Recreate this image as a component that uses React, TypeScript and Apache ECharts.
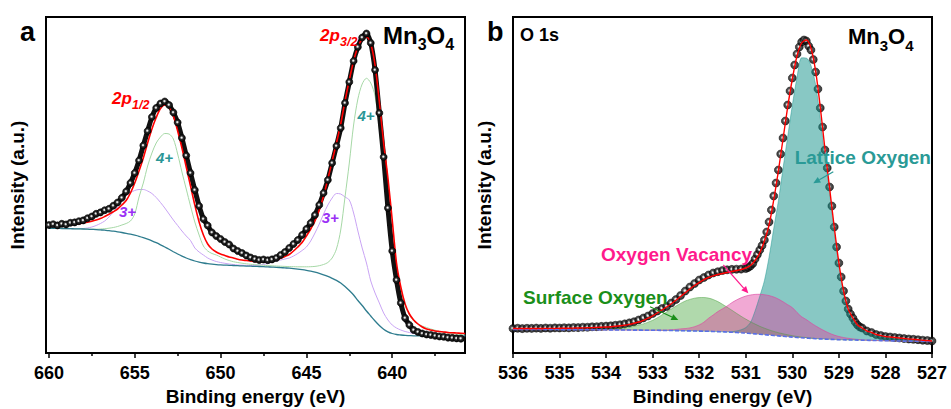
import React, { useEffect, useRef } from 'react';
import * as echarts from 'echarts';

// ---------------- Panel a : Mn 2p ----------------
const mnEnergy = [
  660, 659.75, 659.5, 659.25, 659, 658.75, 658.5, 658.25, 658, 657.75,
  657.5, 657.25, 657, 656.75, 656.5, 656.25, 656, 655.75, 655.5, 655.25,
  655, 654.75, 654.5, 654.25, 654, 653.75, 653.5, 653.25, 653, 652.75,
  652.5, 652.25, 652, 651.75, 651.5, 651.25, 651, 650.75, 650.5, 650.25,
  650, 649.75, 649.5, 649.25, 649, 648.75, 648.5, 648.25, 648, 647.75,
  647.5, 647.25, 647, 646.75, 646.5, 646.25, 646, 645.75, 645.5, 645.25,
  645, 644.75, 644.5, 644.25, 644, 643.75, 643.5, 643.25, 643, 642.75,
  642.5, 642.25, 642, 641.75, 641.5, 641.25, 641, 640.75, 640.5, 640.25,
  640, 639.75, 639.5, 639.25, 639, 638.75, 638.5, 638.25, 638, 637.75,
  637.5, 637.25, 637, 636.75, 636.5, 636.25, 636, 635.75,
];
const mnCounts = [
  128, 128.8, 127.6, 129.2, 128.5, 130.2, 130.6, 131.8, 132.6, 134.8,
  136.5, 139.2, 140.6, 142.8, 144.2, 147.3, 150.5, 155.2, 161.5, 170,
  180, 192.5, 207.5, 222, 236, 245, 249.5, 251.5, 248, 240.5,
  230.5, 215, 197.5, 180, 163, 147, 134, 127.5, 120.5, 117,
  114, 111, 108.5, 104.5, 102, 100, 97.5, 95.5, 94, 93,
  93.5, 92.8, 93.6, 95, 98, 101, 105, 109, 113, 118,
  124, 130, 138, 148, 160, 173, 190, 207, 225, 250,
  271, 292, 306, 315.5, 319.5, 310, 283, 240, 196, 145,
  102, 73, 50, 35, 28, 23, 21, 19.5, 18.5, 18,
  17.2, 16.5, 16.2, 15.4, 15.1, 14.6, 14.4, 14,
];
const mnFit = [
  127, 127, 127.3, 127.6, 128, 128.3, 128.8, 129.3, 130, 130.8,
  131.8, 133, 134.5, 136.5, 138.7, 141.2, 144, 148, 152.5, 160,
  170, 182, 195, 210, 224, 235.5, 244.5, 248, 246, 237,
  222, 205, 186, 167, 148, 131, 118, 109, 104, 101,
  99, 97.5, 96, 95, 93.8, 93, 92.5, 92, 91.5, 91.3,
  91.3, 91.5, 92, 93, 94.8, 96.5, 98.5, 102, 106, 110.5,
  117, 124, 132, 143, 157, 174, 192, 210, 229, 252,
  273, 292, 306, 314, 316, 309, 288, 251, 210, 175,
  133, 90, 66, 49, 39, 33, 29, 26, 24, 23,
  22, 21.5, 21, 20.5, 20.2, 20, 19.7, 19.5,
];
const mnBackground = [
  124.7, 124.7, 124.6, 124.5, 124.4, 124.3, 124.2, 124.1, 124.0, 123.8,
  123.6, 123.4, 123.1, 122.8, 122.3, 121.8, 121.2, 120.5, 119.7, 118.8,
  117.8, 116.7, 115.4, 113.9, 112.2, 110.3, 108.2, 106, 103.7, 101.3,
  99, 96.9, 95, 93.4, 92, 90.9, 90, 89.3, 88.8, 88.4,
  88.1, 87.9, 87.7, 87.5, 87.3, 87.1, 86.9, 86.8, 86.6, 86.5,
  86.3, 86.1, 85.9, 85.7, 85.4, 85.1, 84.8, 84.4, 83.9, 83.3,
  82.6, 81.8, 80.8, 79.6, 78.2, 76.6, 74.7, 72.6, 70, 66.5,
  62.5, 58, 52.5, 47.5, 42, 37, 32, 27.5, 23.8, 21.2,
  19.5, 18.5, 18, 17.6, 17.4, 17.2, 17.1, 17, 17, 17,
  17, 17, 17, 17, 17, 17, 17, 17,
];
const mn4Plus = [
  124.7, 124.7, 124.6, 124.5, 124.4, 124.3, 124.2, 124.1, 124.0, 123.9,
  123.8, 123.8, 124, 124.3, 124.8, 125.5, 126.5, 128, 129.5, 132,
  139, 156, 170, 187, 200, 210, 216, 219.5, 219, 214,
  199, 181, 164, 147, 131, 118, 107, 102, 99.5, 98,
  96, 94, 92.5, 91.3, 90.5, 89.8, 89.2, 88.7, 88.3, 88,
  87.7, 87.4, 87.2, 87, 86.8, 86.6, 86.4, 86.3, 86.2, 86.2,
  86.2, 86.3, 86.6, 87.3, 88.5, 90.5, 95, 104, 123, 156,
  190, 228, 254, 269, 274.7, 270, 257, 224, 181, 149,
  117, 85, 60, 47, 38, 32, 29, 27, 25.5, 24,
  22.8, 21.5, 20.8, 20, 19.3, 18.8, 18.4, 18,
];
const mn3Plus = [
  124.7, 124.7, 124.6, 124.5, 124.4, 124.3, 124.3, 124.3, 124.5, 125,
  126, 127.5, 129.5, 132, 136, 141, 146, 153, 157.5, 160.5,
  162.5, 163.5, 163.5, 162, 159.5, 155.5, 150.5, 145, 139, 133,
  127.5, 122, 117, 112.5, 105, 101, 98, 95, 93, 91.5,
  90.5, 89.7, 89, 88.5, 88, 87.8, 87.6, 87.5, 87.5, 88,
  88.5, 89.5, 90.8, 92, 93, 94, 95, 97, 99.5, 102.5,
  106, 112, 120, 129, 139, 148, 155, 159.5, 159, 156,
  153, 140, 122, 105, 90, 72, 60, 50, 40, 33,
  28, 25, 23, 21.5, 20.5, 19.5, 18.5, 18, 17.7, 17.5,
  17.3, 17.2, 17.1, 17.1, 17, 17, 17, 17,
];
const mnMajorTicks = [640, 645, 650, 655, 660];
const mnMinorTicks = [637.5, 642.5, 647.5, 652.5, 657.5];

// ---------------- Panel b : O 1s ----------------
const oGrid = [
  '536.0', '535.9', '535.8', '535.7', '535.6', '535.5', '535.4', '535.3', '535.2', '535.1', '535.0',
  '534.9', '534.8', '534.7', '534.6', '534.5', '534.4', '534.3', '534.2', '534.1', '534.0',
  '533.9', '533.8', '533.7', '533.6', '533.5', '533.4', '533.3', '533.2', '533.1', '533.0',
  '532.9', '532.8', '532.7', '532.6', '532.5', '532.4', '532.3', '532.2', '532.1', '532.0',
  '531.9', '531.8', '531.7', '531.6', '531.5', '531.4', '531.3', '531.2', '531.1', '531.0',
  '530.9', '530.8', '530.7', '530.6', '530.5', '530.4', '530.3', '530.2', '530.1', '530.0',
  '529.9', '529.8', '529.7', '529.6', '529.5', '529.4', '529.3', '529.2', '529.1', '529.0',
  '528.9', '528.8', '528.7', '528.6', '528.5', '528.4', '528.3', '528.2', '528.1', '528.0',
  '527.9', '527.8', '527.7', '527.6', '527.5', '527.4', '527.3', '527.2', '527.1', '527.0',
];
const oBackground = [
  23.6, 23.6, 23.6, 23.6, 23.6, 23.5, 23.5, 23.5, 23.5, 23.5, 23.4,
  23.4, 23.4, 23.4, 23.3, 23.3, 23.3, 23.3, 23.2, 23.2, 23.2,
  23.1, 23.1, 23.1, 23.0, 23.0, 22.9, 22.9, 22.8, 22.8, 22.7,
  22.7, 22.6, 22.5, 22.5, 22.4, 22.3, 22.2, 22.1, 22.0, 21.9,
  21.8, 21.7, 21.5, 21.4, 21.2, 21.0, 20.8, 20.5, 20.2, 19.9,
  19.5, 19.1, 18.7, 18.3, 17.9, 17.5, 17.1, 16.7, 16.3, 15.9,
  15.5, 15.2, 14.9, 14.6, 14.3, 14.1, 13.9, 13.7, 13.5, 13.3,
  13.2, 13.1, 13.0, 12.9, 12.8, 12.7, 12.6, 12.5, 12.4, 12.3,
  12.2, 12.1, 12.0, 11.9, 11.9, 11.8, 11.7, 11.7, 11.6, 11.5,
];
const oSurface = [
  0, 0, 0, 0, 0, 0, 0, 0, 0, 0, 0,
  0, 0, 0, 0, 0, 0.1, 0.2, 0.3, 0.4, 0.5,
  0.7, 1.0, 1.5, 2.0, 2.8, 3.8, 5.0, 6.3, 8.0, 10.0,
  12.5, 15.5, 18.5, 21.5, 24.5, 27.3, 29.8, 31.5, 32.8, 33.5,
  33.7, 33.2, 32.0, 30.0, 27.5, 24.8, 22.0, 19.2, 16.5, 14.0,
  11.8, 9.8, 8.0, 6.5, 5.2, 4.1, 3.2, 2.5, 1.9, 1.4,
  1.0, 0.7, 0.5, 0.3, 0.2, 0.1, 0, 0, 0, 0,
  0, 0, 0, 0, 0, 0, 0, 0, 0, 0,
  0, 0, 0, 0, 0, 0, 0, 0, 0, 0,
];
const oVacancy = [
  0, 0, 0, 0, 0, 0, 0, 0, 0, 0, 0,
  0, 0, 0, 0, 0, 0, 0, 0, 0, 0,
  0, 0, 0, 0, 0, 0, 0, 0, 0, 0.1,
  0.2, 0.3, 0.5, 0.8, 1.2, 1.8, 2.2, 3.0, 4.3, 6.2,
  9.0, 13.0, 16.5, 20.0, 23.0, 26.0, 29.5, 32.5, 35.0, 37.0,
  38.5, 39.5, 40.0, 40.0, 39.5, 38.5, 36.8, 34.5, 32.0, 29.5,
  25.0, 21.0, 18.5, 15.5, 12.8, 10.3, 8.0, 6.0, 4.4, 3.2,
  2.3, 1.6, 1.1, 0.7, 0.4, 0.2, 0.1, 0, 0, 0,
  0, 0, 0, 0, 0, 0, 0, 0, 0, 0,
];
const oLattice = [
  0, 0, 0, 0, 0, 0, 0, 0, 0, 0, 0,
  0, 0, 0, 0, 0, 0, 0, 0, 0, 0,
  0, 0, 0, 0, 0, 0, 0, 0, 0, 0,
  0, 0, 0, 0, 0, 0, 0, 0, 0, 0,
  0, 0, 0, 0, 0, 0, 0.5, 1.5, 3.0, 5.5,
  11, 23, 38, 54, 78, 107, 135, 168, 200, 232,
  260, 280, 280, 273, 254, 221, 182, 147, 108, 74,
  47, 29.5, 20.5, 14.7, 11.5, 9.4, 7.8, 6.2, 5.2, 4.3,
  3.8, 3.3, 2.9, 2.5, 2.2, 2.0, 1.7, 1.5, 1.2, 1.0,
];
const oFit = [
  24.5, 24.5, 24.5, 24.5, 24.5, 24.5, 24.5, 24.6, 24.6, 24.6, 24.7,
  24.7, 24.8, 24.9, 25.0, 25.1, 25.2, 25.4, 25.6, 25.8, 26.0,
  26.3, 26.7, 27.2, 27.8, 28.6, 29.7, 31.0, 32.7, 34.8, 37.2,
  40.0, 43.0, 46.0, 49.3, 52.8, 56.5, 60.3, 64.0, 67.5, 70.5,
  73.3, 75.5, 77.2, 78.5, 79.5, 80.5, 81.5, 82.5, 83.5, 85.0,
  87.5, 92.5, 100, 112, 128, 153, 182, 214, 246, 274,
  297, 310, 313, 305, 282, 246, 204, 165, 126, 90,
  62, 44, 35, 28, 25, 22, 20.5, 18.5, 17.5, 16.5,
  16, 15.5, 15, 14.5, 14, 13.7, 13.3, 12.8, 12.5, 12,
];
const oDotEnergy = [
  536.0, 535.9, 535.8, 535.7, 535.6, 535.5, 535.4, 535.3, 535.2, 535.1,
  535.0, 534.9, 534.8, 534.7, 534.6, 534.5, 534.4, 534.3, 534.2, 534.1,
  534.0, 533.9, 533.8, 533.7, 533.6, 533.5, 533.4, 533.3, 533.2, 533.1,
  533.0, 532.9, 532.8, 532.7, 532.6, 532.5, 532.4, 532.3, 532.2, 532.1,
  532.0, 531.9, 531.8, 531.7, 531.6, 531.5, 531.4, 531.3, 531.2, 531.1,
  531.0,
  530.95, 530.9, 530.85, 530.8, 530.75, 530.7, 530.65, 530.6, 530.55, 530.5,
  530.45, 530.4, 530.35, 530.3, 530.25, 530.2, 530.15, 530.1, 530.05, 530.0,
  529.95, 529.9, 529.85, 529.8, 529.75, 529.7, 529.65, 529.6, 529.55, 529.5,
  529.45, 529.4, 529.35, 529.3, 529.25, 529.2, 529.15, 529.1, 529.05, 529.0,
  528.95, 528.9, 528.85, 528.8, 528.75, 528.7, 528.65, 528.6, 528.55, 528.5,
  528.4, 528.3, 528.2, 528.1, 528.0, 527.9, 527.8, 527.7, 527.6, 527.5,
  527.4, 527.3, 527.2, 527.1, 527.0,
];
const oDotCounts = [
  24.5, 24.8, 24.4, 24.7, 24.6, 24.9, 24.6, 25.0, 24.8, 25.1,
  25.0, 25.3, 25.1, 25.5, 25.4, 25.8, 25.8, 26.2, 26.3, 26.6,
  26.9, 27.2, 27.7, 28.3, 29.1, 30.1, 31.3, 33.0, 35.0, 37.0,
  39.5, 42.0, 44.5, 46.5, 50.0, 53.5, 57.5, 62.0, 66.0, 69.5,
  73.0, 75.5, 78.0, 80.0, 81.3, 82.5, 83.2, 83.6, 83.8, 83.9,
  84.5,
  85.5, 87, 89.5, 94, 98.5, 103, 107.5, 113, 121, 131,
  143, 157, 170, 183, 199, 215, 232, 248, 262, 275,
  288, 299, 306, 311, 313, 312, 307, 303, 293.5, 281,
  264, 245, 226, 203, 185, 166, 147, 126, 106, 90,
  76, 62, 52, 44, 39, 35, 31, 28, 26, 25,
  22, 20.5, 18.5, 17.5, 16.5, 16, 15.5, 15, 14.5, 14,
  13.7, 13.3, 12.8, 12.5, 12,
];

const FONT = "'Liberation Sans', Arial, Helvetica, sans-serif";

const zip = (xs: number[], ys: number[]) => xs.map((x, i) => [x, ys[i]]);

const dotFill = {
  type: 'radial', x: 0.45, y: 0.45, r: 0.6,
  colorStops: [
    { offset: 0, color: '#ffffff' },
    { offset: 0.15, color: '#d8d8d8' },
    { offset: 0.4, color: '#2a2a2a' },
    { offset: 1, color: '#000000' },
  ],
};

function txt(x: number, y: number, text: string, size: number, color: string, italic = false, align = 'left') {
  return {
    type: 'text', x, y, z: 100,
    style: {
      text, fill: color, fontSize: size, fontWeight: 'bold', fontFamily: FONT,
      fontStyle: italic ? 'italic' : 'normal', align, verticalAlign: 'middle',
    },
  };
}

function arrow(x1: number, y1: number, x2: number, y2: number, color: string) {
  const dx = x2 - x1, dy = y2 - y1;
  const L = Math.hypot(dx, dy);
  const ux = dx / L, uy = dy / L;
  const hl = 7, hw = 3.2;
  const bx = x2 - ux * hl, by = y2 - uy * hl;
  return [
    { type: 'line', z: 100, shape: { x1, y1, x2: bx, y2: by }, style: { stroke: color, lineWidth: 1.2 } },
    { type: 'polygon', z: 100, shape: { points: [[x2, y2], [bx - uy * hw, by + ux * hw], [bx + uy * hw, by - ux * hw]] }, style: { fill: color } },
  ];
}

function mnO4(x: number, y: number, big: number, small: number) {
  const wMn = 1.444 * big, wSub = 0.556 * small, wO = 0.778 * big;
  return [
    txt(x, y, 'Mn', big, '#000'),
    txt(x + wMn, y + 9, '3', small, '#000'),
    txt(x + wMn + wSub, y, 'O', big, '#000'),
    txt(x + wMn + wSub + wO, y + 9, '4', small, '#000'),
  ];
}

export default function App() {
  const ref = useRef<HTMLDivElement>(null);
  useEffect(() => {
    if (!ref.current) return;
    const chart = echarts.init(ref.current, undefined, { renderer: 'svg' });
    const axisFont = { fontFamily: FONT, fontWeight: 'bold', fontSize: 18, color: '#000' };
    const nameFont = { fontFamily: FONT, fontWeight: 'bold', fontSize: 19, color: '#000' };
    const yAxisBase = (gridIndex: number) => ({
      type: 'value', gridIndex, min: 0, max: 336,
      name: 'Intensity (a.u.)', nameLocation: 'middle', nameGap: 19, nameRotate: 90,
      nameTextStyle: nameFont,
      axisLine: { show: true, lineStyle: { color: '#000', width: 2 } },
      axisTick: { show: false }, axisLabel: { show: false }, splitLine: { show: false },
    });
    const thin = (data: any, color: string, width: number, extra: any = {}) => ({
      type: 'line', data, smooth: 0.3, symbol: 'none', silent: true,
      lineStyle: { color, width }, ...extra,
    });
    const base = (stack: string) => ({
      type: 'line', xAxisIndex: 3, yAxisIndex: 1, data: oBackground, stack, smooth: 0.3,
      symbol: 'none', silent: true, lineStyle: { width: 0, opacity: 0 },
    });
    const fill = (stack: string, data: number[], color: string, line: string) => ({
      type: 'line', xAxisIndex: 3, yAxisIndex: 1, data, stack, smooth: 0.3,
      symbol: 'none', silent: true, lineStyle: { width: 0.8, color: line },
      areaStyle: { color, opacity: 1 },
    });

    const option: any = {
      animation: false,
      backgroundColor: '#fff',
      grid: [
        { left: 46, top: 17, width: 419, height: 336, show: true, borderColor: '#000', borderWidth: 2, outerBoundsMode: 'none', containLabel: false },
        { left: 513, top: 17, width: 419, height: 336, show: true, borderColor: '#000', borderWidth: 2, outerBoundsMode: 'none', containLabel: false },
      ],
      xAxis: [
        {
          type: 'value', gridIndex: 0, min: 635.76, max: 660.17, inverse: true, position: 'bottom',
          name: 'Binding energy (eV)', nameLocation: 'middle', nameGap: 32, nameTextStyle: nameFont,
          axisLine: { show: true, lineStyle: { color: '#000', width: 2 } },
          axisTick: { show: true, customValues: mnMajorTicks, length: 5, lineStyle: { color: '#000', width: 1.5 } },
          axisLabel: { show: true, customValues: mnMajorTicks, margin: 11, ...axisFont },
          splitLine: { show: false },
        },
        {
          type: 'value', gridIndex: 0, min: 635.76, max: 660.17, inverse: true, position: 'bottom',
          axisLine: { show: false },
          axisTick: { show: true, customValues: mnMinorTicks, length: 3, lineStyle: { color: '#000', width: 1.5 } },
          axisLabel: { show: false }, splitLine: { show: false },
        },
        {
          type: 'value', gridIndex: 1, min: 527, max: 536, interval: 1, inverse: true, position: 'bottom',
          name: 'Binding energy (eV)', nameLocation: 'middle', nameGap: 32, nameTextStyle: nameFont,
          axisLine: { show: true, lineStyle: { color: '#000', width: 2 } },
          axisTick: { show: true, length: 5, lineStyle: { color: '#000', width: 1.5 } },
          axisLabel: { show: true, margin: 11, ...axisFont, showMinLabel: true, showMaxLabel: true },
          splitLine: { show: false },
        },
        {
          type: 'category', gridIndex: 1, data: oGrid, boundaryGap: false, show: false, position: 'bottom',
        },
      ],
      yAxis: [yAxisBase(0), yAxisBase(1)],
      series: [
        // panel a
        thin(zip(mnEnergy, mn3Plus), '#c9a4f4', 1),
        thin(zip(mnEnergy, mn4Plus), '#a6d8a6', 1),
        thin(zip(mnEnergy, mnBackground), '#2e7c8e', 1.3),
        {
          type: 'line', data: zip(mnEnergy, mnCounts), smooth: 0.2, silent: true,
          symbol: 'circle', symbolSize: 7, showSymbol: true,
          lineStyle: { color: '#111', width: 5 },
          itemStyle: { color: dotFill, borderColor: '#000', borderWidth: 0.6 },
        },
        thin(zip(mnEnergy, mnFit), '#ff0000', 1.6),
        // panel b
        {
          type: 'scatter', xAxisIndex: 2, yAxisIndex: 1, data: zip(oDotEnergy, oDotCounts),
          symbol: 'circle', symbolSize: 8, silent: true,
          itemStyle: { color: dotFill, borderColor: '#000', borderWidth: 0.6 },
        },
        base('lat'),
        fill('lat', oLattice, 'rgba(17,145,137,0.5)', 'rgba(17,145,137,0.55)'),
        base('sur'),
        fill('sur', oSurface, 'rgba(80,170,70,0.45)', 'rgba(70,160,60,0.6)'),
        base('vac'),
        fill('vac', oVacancy, 'rgba(224,64,160,0.45)', 'rgba(220,70,160,0.8)'),
        {
          type: 'line', xAxisIndex: 3, yAxisIndex: 1, data: oBackground, smooth: 0.3, symbol: 'none', silent: true,
          lineStyle: { color: '#5a6fe6', width: 1.6, type: [4, 2] },
        },
        {
          type: 'line', xAxisIndex: 3, yAxisIndex: 1, data: oFit, smooth: 0.3, symbol: 'none', silent: true,
          lineStyle: { color: '#ff0000', width: 1.4 },
        },
      ],
      graphic: [
        txt(20, 32, 'a', 27, '#000'),
        txt(487, 32, 'b', 27, '#000'),
        ...mnO4(383, 35, 24, 16),
        ...mnO4(848, 36, 22, 15),
        txt(112, 98, '2p', 17, '#ff0000', true),
        txt(132, 105, '1/2', 12.5, '#ff0000', true),
        txt(320, 35, '2p', 17, '#ff0000', true),
        txt(340, 42, '3/2', 12.5, '#ff0000', true),
        txt(156, 157, '4+', 15, '#2a9696', true),
        txt(357.5, 115, '4+', 15, '#2a9696', true),
        txt(119, 211, '3+', 15, '#9a30f5', true),
        txt(321.7, 217, '3+', 15, '#9a30f5', true),
        txt(520, 35, 'O 1s', 18, '#000'),
        txt(794.7, 157, 'Lattice Oxygen', 19, '#2a9a96'),
        txt(601, 254.5, 'Oxygen Vacancy', 19, '#ff1a8c'),
        txt(523, 297, 'Surface Oxygen', 19, '#1a8f1a'),
        ...arrow(833.3, 171.7, 813.3, 183.3, '#2a9a96'),
        ...arrow(723.3, 265, 748.3, 293.3, '#ff1a8c'),
        ...arrow(650, 306.7, 678.3, 320, '#1a8f1a'),
      ],
    };
    chart.setOption(option);
    return () => chart.dispose();
  }, []);
  return <div ref={ref} style={{ position: 'absolute', left: 0, top: 0, width: 951, height: 409 }} />;
}
